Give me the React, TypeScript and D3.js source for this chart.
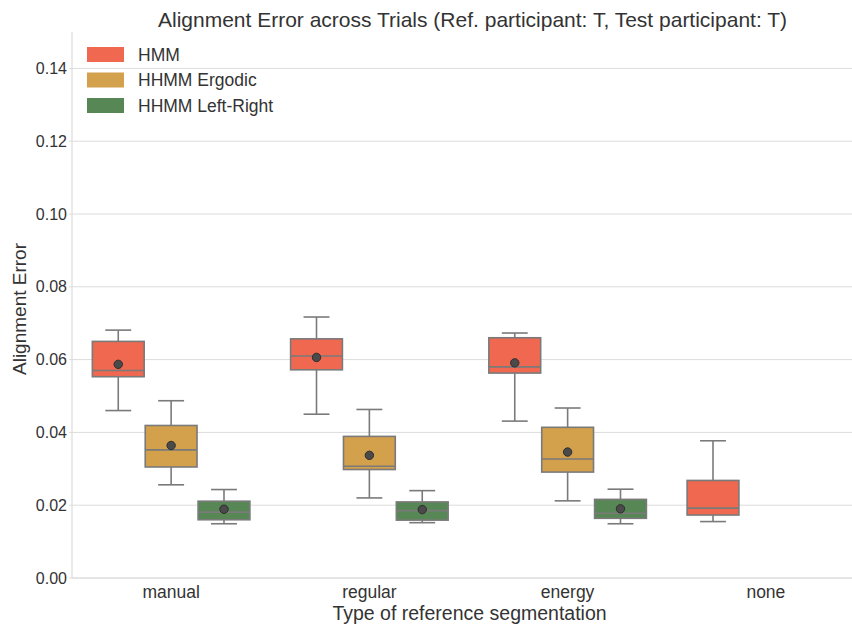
import React from "react";
import * as d3 from "d3";

// 카테고리 / 시리즈
const categories = ["manual", "regular", "energy", "none"];
const seriesNames = ["HMM", "HHMM Ergodic", "HHMM Left-Right"];
const seriesColors = ["#F06850", "#D3A04C", "#588756"];

// 박스 통계 [min, q1, median, q3, max]  (시리즈별, 카테고리 순서)
const hmmStats = [
  [0.046, 0.0553, 0.057, 0.065, 0.0681],
  [0.045, 0.0572, 0.061, 0.0657, 0.0717],
  [0.0431, 0.0563, 0.058, 0.066, 0.0673],
  [0.0155, 0.0173, 0.0192, 0.0268, 0.0377],
];
const ergodicStats = [
  [0.0256, 0.0305, 0.0352, 0.0419, 0.0487],
  [0.022, 0.0298, 0.0307, 0.0389, 0.0463],
  [0.0212, 0.0291, 0.0327, 0.0414, 0.0467],
  null,
];
const leftRightStats = [
  [0.0149, 0.016, 0.0181, 0.0211, 0.0243],
  [0.0152, 0.0159, 0.0185, 0.0209, 0.024],
  [0.0149, 0.0164, 0.0178, 0.0216, 0.0244],
  null,
];
// 평균값 (점)
const hmmMeans = [0.0587, 0.0606, 0.0591, null];
const ergodicMeans = [0.0364, 0.0337, 0.0346, null];
const leftRightMeans = [0.0189, 0.0188, 0.019, null];

const yTicks = [0, 0.02, 0.04, 0.06, 0.08, 0.1, 0.12, 0.14];

const allStats = [hmmStats, ergodicStats, leftRightStats];
const allMeans = [hmmMeans, ergodicMeans, leftRightMeans];

const W = 852;
const H = 624;
const margin = { top: 32, left: 72, bottom: 46, right: -13 };
const FONT = "'Liberation Sans', Arial, sans-serif";
const TEXT = "#333333";
const GRID = "#dcdcdc";
const LINE = "#7a7a7a";

export default function App() {
  const x0 = d3
    .scaleBand<string>()
    .domain(categories)
    .range([margin.left, W - margin.right])
    .paddingInner(0)
    .paddingOuter(0);
  const inner = x0.bandwidth() * 0.8;
  const x1 = d3
    .scaleBand<string>()
    .domain(seriesNames)
    .range([-inner / 2, inner / 2]);
  const y = d3
    .scaleLinear()
    .domain([0, 0.15])
    .range([H - margin.bottom, margin.top]);

  const boxW = x1.bandwidth() * 0.98;
  const capW = boxW / 2;
  const plotRight = W - margin.right;

  return (
    <svg
      width={W}
      height={H}
      style={{ position: "absolute", left: 0, top: 0, background: "#fff" }}
      fontFamily={FONT}
    >
      {/* 그리드 */}
      {yTicks.map((t) => (
        <g key={t}>
          <line x1={margin.left} x2={plotRight} y1={y(t)} y2={y(t)} stroke={GRID} strokeWidth={1} />
          <line x1={margin.left - 3} x2={margin.left} y1={y(t)} y2={y(t)} stroke={GRID} strokeWidth={1} />
          <text x={margin.left - 5} y={y(t)} dy="0.35em" textAnchor="end" fontSize={16} fill={TEXT}>
            {d3.format(".2f")(t)}
          </text>
        </g>
      ))}
      {/* 축선 */}
      <line x1={margin.left} x2={margin.left} y1={margin.top} y2={y(0)} stroke={GRID} strokeWidth={1.2} />
      <line x1={margin.left} x2={plotRight} y1={y(0)} y2={y(0)} stroke={GRID} strokeWidth={1.2} />

      {/* 박스 */}
      {allStats.map((stats, si) =>
        stats.map((s, ci) => {
          if (!s) return null;
          const cx = (x0(categories[ci]) as number) + x0.bandwidth() / 2 + (x1(seriesNames[si]) as number) + x1.bandwidth() / 2;
          const [mn, q1, md, q3, mx] = s;
          const mean = allMeans[si][ci];
          return (
            <g key={`${si}-${ci}`}>
              <line x1={cx} x2={cx} y1={y(mx)} y2={y(q3)} stroke={LINE} strokeWidth={1.6} />
              <line x1={cx} x2={cx} y1={y(q1)} y2={y(mn)} stroke={LINE} strokeWidth={1.6} />
              <line x1={cx - capW / 2} x2={cx + capW / 2} y1={y(mx)} y2={y(mx)} stroke={LINE} strokeWidth={1.6} />
              <line x1={cx - capW / 2} x2={cx + capW / 2} y1={y(mn)} y2={y(mn)} stroke={LINE} strokeWidth={1.6} />
              <rect
                x={cx - boxW / 2}
                y={y(q3)}
                width={boxW}
                height={y(q1) - y(q3)}
                fill={seriesColors[si]}
                stroke={LINE}
                strokeWidth={1.6}
              />
              <line x1={cx - boxW / 2} x2={cx + boxW / 2} y1={y(md)} y2={y(md)} stroke={LINE} strokeWidth={1.6} />
              {mean != null && (
                <circle cx={cx} cy={y(mean)} r={4.2} fill="#4a4a4a" stroke="#2e2e2e" strokeWidth={1} />
              )}
            </g>
          );
        })
      )}

      {/* X 틱 라벨 */}
      {categories.map((c) => (
        <text
          key={c}
          x={(x0(c) as number) + x0.bandwidth() / 2}
          y={y(0) + 20}
          textAnchor="middle"
          fontSize={17.5}
          fill={TEXT}
        >
          {c}
        </text>
      ))}

      {/* 축 제목 */}
      <text x={(margin.left + plotRight) / 2 + 1} y={620} textAnchor="middle" fontSize={19.5} fill={TEXT}>
        Type of reference segmentation
      </text>
      <text
        transform={`translate(26, ${(margin.top + y(0)) / 2 + 4}) rotate(-90)`}
        textAnchor="middle"
        fontSize={19}
        fill={TEXT}
      >
        Alignment Error
      </text>
      <text x={(margin.left + plotRight) / 2 + 4} y={27} textAnchor="middle" fontSize={21} fill={TEXT}>
        Alignment Error across Trials (Ref. participant: T, Test participant: T)
      </text>

      {/* 범례 */}
      {seriesNames.map((n, i) => (
        <g key={n} transform={`translate(87, ${47 + i * 25.5})`}>
          <rect x={0} y={0} width={37} height={15} fill={seriesColors[i]} />
          <text x={51} y={7.5} dy="0.35em" fontSize={17.5} fill={TEXT}>
            {n}
          </text>
        </g>
      ))}
    </svg>
  );
}
